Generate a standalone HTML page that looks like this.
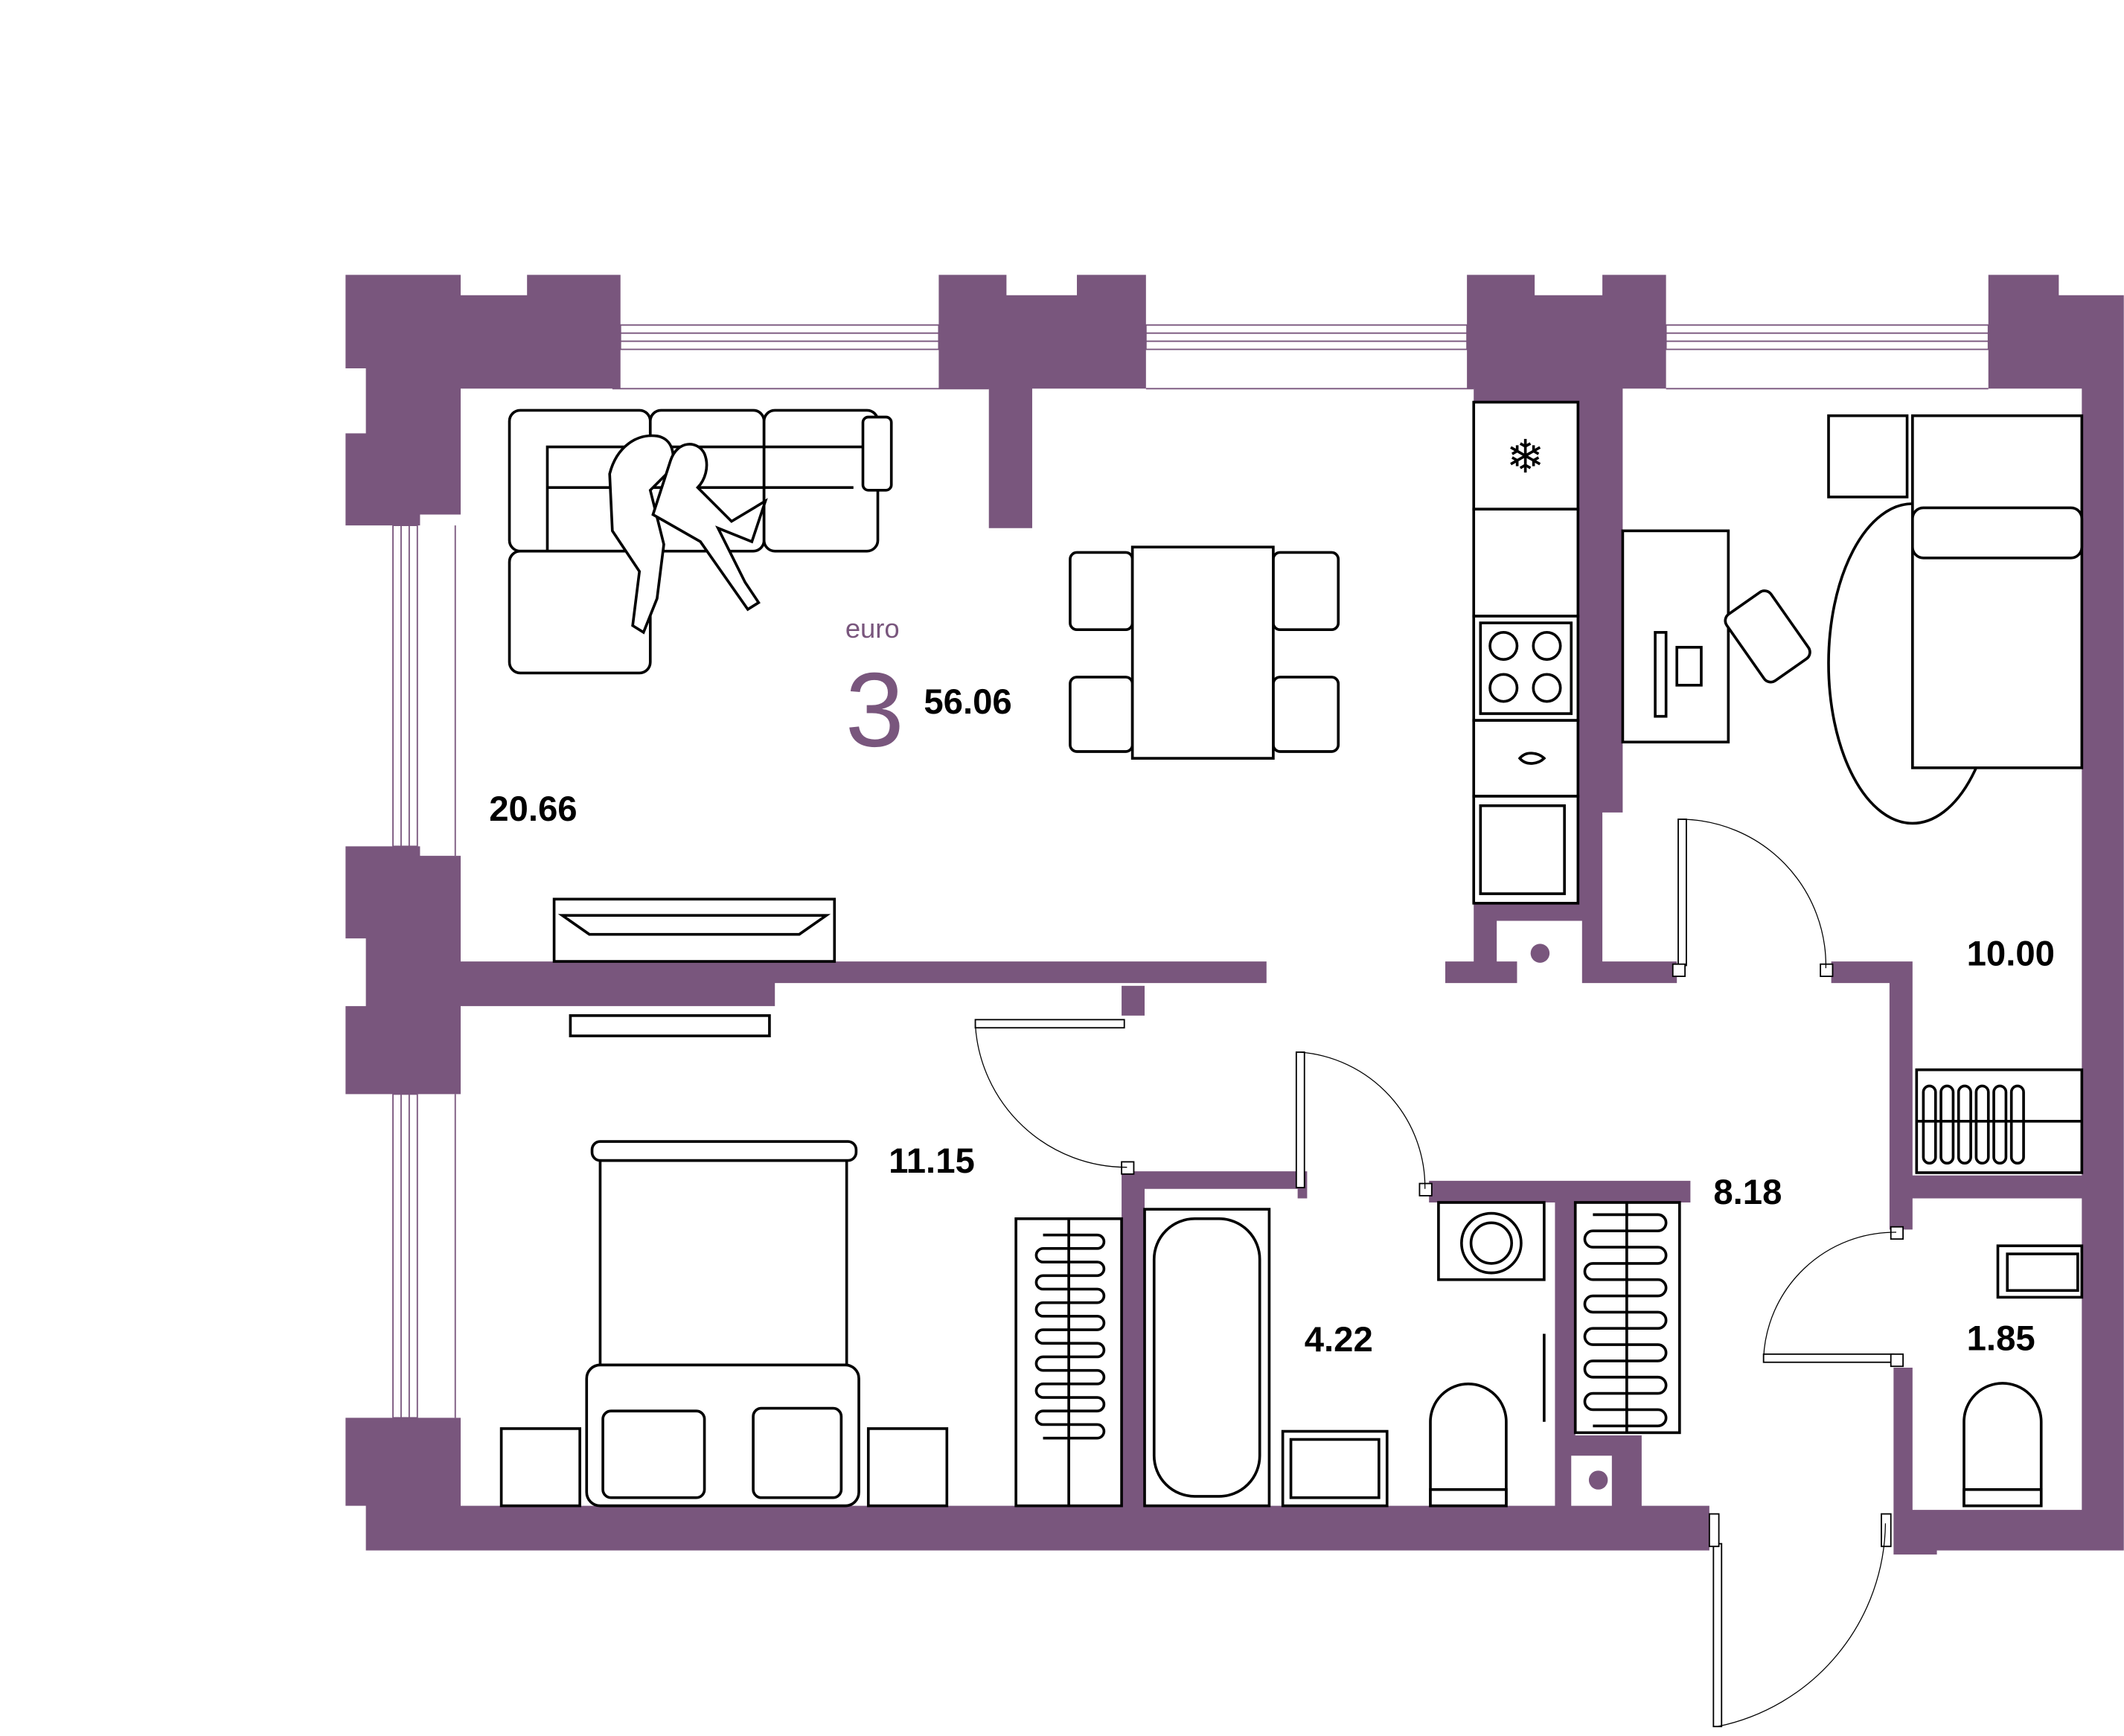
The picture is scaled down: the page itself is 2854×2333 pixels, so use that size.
<!DOCTYPE html>
<html><head><meta charset="utf-8"><style>
html,body{margin:0;padding:0;background:#fff;}
svg{display:block;}
.w{fill:#79567d;}
.f{fill:#fff;stroke:#000;stroke-width:2;}
.fn{fill:none;stroke:#000;stroke-width:2;}
.d{fill:#fff;stroke:#000;stroke-width:1;}
.a{fill:none;stroke:#000;stroke-width:0.7;}
.win{fill:#fff;stroke:#79567d;stroke-width:1;}
.t{font-family:"Liberation Sans",sans-serif;font-size:26px;font-weight:bold;fill:#000;}
</style></head><body>
<svg width="2854" height="2333" viewBox="0 0 1568 1282" xmlns="http://www.w3.org/2000/svg">
<g class="win">
<rect x="458" y="240" width="235" height="18"/><line x1="458" y1="246" x2="693" y2="246"/><line x1="458" y1="252" x2="693" y2="252"/><line x1="452" y1="287" x2="730" y2="287"/>
<rect x="846" y="240" width="237" height="18"/><line x1="846" y1="246" x2="1083" y2="246"/><line x1="846" y1="252" x2="1083" y2="252"/><line x1="846" y1="287" x2="1088" y2="287"/>
<rect x="1230" y="240" width="238" height="18"/><line x1="1230" y1="246" x2="1468" y2="246"/><line x1="1230" y1="252" x2="1468" y2="252"/><line x1="1230" y1="287" x2="1468" y2="287"/>
<rect x="290" y="388" width="18" height="237"/><line x1="296" y1="388" x2="296" y2="625"/><line x1="302" y1="388" x2="302" y2="625"/><line x1="336" y1="388" x2="336" y2="632"/>
<rect x="290" y="808" width="18" height="239"/><line x1="296" y1="808" x2="296" y2="1047"/><line x1="302" y1="808" x2="302" y2="1047"/><line x1="336" y1="808" x2="336" y2="1047"/>
</g>
<g class="w">
<polygon points="255,203 340,203 340,218 389,218 389,203 458,203 458,287 340,287 340,380 310,380 310,388 255,388 255,320 270,320 270,272 255,272"/>
<polygon points="693,203 743,203 743,218 795,218 795,203 846,203 846,287 762,287 762,390 730,390 730,287 693,287"/>
<polygon points="1083,203 1133,203 1133,218 1183,218 1183,203 1230,203 1230,287 1198,287 1198,600 1183,600 1183,710 1238,710 1238,726 1168,726 1168,680 1105,680 1105,710 1120,710 1120,726 1067,726 1067,710 1088,710 1088,287 1083,287"/>
<polygon points="1468,203 1520,203 1520,218 1568,218 1568,1145 1430,1145 1430,1148 1398,1148 1398,1010 1412,1010 1412,1115 1537,1115 1537,885 1412,885 1412,908 1395,908 1395,726 1352,726 1352,710 1412,710 1412,868 1537,868 1537,287 1468,287"/>
<polygon points="255,625 310,625 310,632 340,632 340,710 935,710 935,726 572,726 572,743 340,743 340,808 255,808 255,743 270,743 270,693 255,693"/>
<polygon points="255,1047 340,1047 340,1112 828,1112 828,865 965,865 965,885 958,885 958,878 845,878 845,1112 1148,1112 1148,888 1055,888 1055,872 1248,872 1248,888 1163,888 1163,1060 1212,1060 1212,1112 1262,1112 1262,1145 270,1145 270,1112 255,1112"/>
<rect x="828" y="728" width="17" height="22"/>
<rect x="1160" y="1075" width="30" height="37" fill="#fff"/>
</g>
<circle cx="1137" cy="704" r="7" class="w"/>
<circle cx="1180" cy="1093" r="7" class="w"/>

<g class="f">
<rect x="376" y="303" width="104" height="104" rx="8"/>
<rect x="480" y="303" width="84" height="104" rx="8"/>
<rect x="564" y="303" width="84" height="104" rx="8"/>
<rect x="637" y="308" width="21" height="54" rx="4"/>
<rect x="376" y="407" width="104" height="90" rx="8"/>
</g>
<path class="fn" d="M404 407V330H637M404 360H630"/>
<g class="f">
<path d="M450 350c5-20 20-30 35-28 12 2 14 15 10 25l-15 15 10 40-5 40-10 25-8-5 5-40-20-30z"/>
<path d="M495 340c5-15 20-15 25-5 4 10 0 20-5 25l25 25 25-15-10 30-25-10 20 40 10 15-8 5-35-50-35-20z"/>
</g>
<g class="f">
<rect x="790" y="408" width="46" height="57" rx="5"/><rect x="790" y="500" width="46" height="55" rx="5"/>
<rect x="940" y="408" width="48" height="57" rx="5"/><rect x="940" y="500" width="48" height="55" rx="5"/>
<rect x="836" y="404" width="104" height="156"/>
</g>
<g class="f">
<rect x="1088" y="297" width="77" height="79"/><rect x="1088" y="376" width="77" height="79"/>
<rect x="1088" y="455" width="77" height="77"/><rect x="1093" y="460" width="67" height="67"/>
<rect x="1088" y="532" width="77" height="56"/><rect x="1088" y="588" width="77" height="79"/>
<rect x="1093" y="595" width="62" height="65"/>
<circle cx="1110" cy="477" r="10"/><circle cx="1142" cy="477" r="10"/><circle cx="1110" cy="508" r="10"/><circle cx="1142" cy="508" r="10"/>
</g>
<text x="1126" y="349" font-size="34" text-anchor="middle" font-family="DejaVu Sans">❄</text>
<path class="fn" d="M1122 560c5-6 14-4 18 0-4 4-13 6-18 0z"/>
<g class="f"><rect x="409" y="664" width="207" height="46"/><path d="M415 676H610L590 690H435Z"/><rect x="421" y="750" width="147" height="15"/></g>
<g class="f">
<rect x="443" y="857" width="182" height="155"/>
<rect x="437" y="843" width="195" height="14" rx="6"/>
<rect x="433" y="1008" width="201" height="104" rx="10"/>
<rect x="445" y="1042" width="75" height="64" rx="6"/><rect x="556" y="1040" width="65" height="66" rx="6"/>
<rect x="370" y="1055" width="58" height="57"/><rect x="641" y="1055" width="58" height="57"/>
<rect x="750" y="900" width="78" height="212"/>
</g>
<path class="fn" d="M770 912h40a5 5 0 0 1 0 10h-40a5 5 0 0 0 0 10h40a5 5 0 0 1 0 10h-40a5 5 0 0 0 0 10h40a5 5 0 0 1 0 10h-40a5 5 0 0 0 0 10h40a5 5 0 0 1 0 10h-40a5 5 0 0 0 0 10h40a5 5 0 0 1 0 10h-40a5 5 0 0 0 0 10h40a5 5 0 0 1 0 10h-40a5 5 0 0 0 0 10h40a5 5 0 0 1 0 10h-40a5 5 0 0 0 0 10h40a5 5 0 0 1 0 10h-40"/>
<line class="fn" x1="789" y1="900" x2="789" y2="1112"/>
<g class="f">
<rect x="845" y="893" width="92" height="219"/><rect x="852" y="900" width="78" height="205" rx="30"/>
<rect x="947" y="1057" width="77" height="55"/><rect x="953" y="1063" width="65" height="43"/>
<path d="M1056 1112V1050a28 28 0 0 1 56 0V1112Z"/><rect x="1056" y="1100" width="56" height="12"/>
<rect x="1062" y="888" width="78" height="57"/><circle cx="1101" cy="918" r="22"/><circle cx="1101" cy="918" r="15"/>
<rect x="1163" y="888" width="77" height="170"/>
</g>
<path class="fn" d="M1176 897h48a5 5 0 0 1 0 12h-48a5 5 0 0 0 0 12h48a5 5 0 0 1 0 12h-48a5 5 0 0 0 0 12h48a5 5 0 0 1 0 12h-48a5 5 0 0 0 0 12h48a5 5 0 0 1 0 12h-48a5 5 0 0 0 0 12h48a5 5 0 0 1 0 12h-48a5 5 0 0 0 0 12h48a5 5 0 0 1 0 12h-48a5 5 0 0 0 0 12h48a5 5 0 0 1 0 12h-48"/>
<line class="fn" x1="1201" y1="888" x2="1201" y2="1058"/>
<path class="fn" d="M1140 985v65"/>
<g class="f">
<rect x="1350" y="307" width="58" height="60"/>
<ellipse cx="1412" cy="490" rx="62" ry="118"/>
<rect x="1412" y="307" width="125" height="260"/>
<rect x="1412" y="375" width="125" height="37" rx="8"/>
<rect x="1198" y="392" width="78" height="156"/>
<rect x="1285" y="440" width="40" height="60" rx="6" transform="rotate(-35 1305 470)"/>
<rect x="1222" y="467" width="8" height="62"/><rect x="1238" y="478" width="18" height="28"/>
<rect x="1415" y="790" width="122" height="76"/>
<rect x="1475" y="920" width="62" height="38"/><rect x="1482" y="926" width="52" height="27"/>
<path d="M1450 1112V1050a28 28 0 0 1 57 0V1112Z"/><rect x="1450" y="1100" width="57" height="12"/>
</g>
<path class="fn" d="M1415 828h122"/>
<g class="fn"><rect x="1420" y="802" width="9" height="57" rx="4.5"/><rect x="1433" y="802" width="9" height="57" rx="4.5"/><rect x="1446" y="802" width="9" height="57" rx="4.5"/><rect x="1459" y="802" width="9" height="57" rx="4.5"/><rect x="1472" y="802" width="9" height="57" rx="4.5"/><rect x="1485" y="802" width="9" height="57" rx="4.5"/></g>
<g class="d">
<rect x="720" y="753" width="110" height="6"/><rect x="828" y="858" width="9" height="9"/>
<rect x="957" y="777" width="6" height="100"/><rect x="1048" y="874" width="9" height="9"/>
<rect x="1239" y="605" width="6" height="108"/><rect x="1235" y="712" width="9" height="9"/><rect x="1344" y="712" width="9" height="9"/>
<rect x="1302" y="1000" width="96" height="6"/><rect x="1396" y="1000" width="9" height="9"/><rect x="1396" y="906" width="9" height="9"/>
<rect x="1265" y="1140" width="6" height="135"/><rect x="1262" y="1118" width="7" height="24"/><rect x="1389" y="1118" width="7" height="24"/>
</g>
<g class="a">
<path d="M720 757A112 112 0 0 0 832 862"/>
<path d="M960 777A100 100 0 0 1 1052 878"/>
<path d="M1242 605A108 108 0 0 1 1348 715"/>
<path d="M1302 1003A97 97 0 0 1 1400 910"/>
<path d="M1268 1275A155 155 0 0 0 1392 1125"/>
</g>
<text x="624" y="471" font-family="Liberation Sans,sans-serif" font-size="20" fill="#79567d">euro</text>
<text x="624" y="551" font-family="Liberation Sans,sans-serif" font-size="78" fill="#79567d">3</text>
<text class="t" x="682" y="527">56.06</text>
<text class="t" x="361" y="606">20.66</text>
<text class="t" x="656" y="866">11.15</text>
<text class="t" x="963" y="998">4.22</text>
<text class="t" x="1265" y="889">8.18</text>
<text class="t" x="1452" y="713">10.00</text>
<text class="t" x="1452" y="997">1.85</text>
</svg>
</body></html>
